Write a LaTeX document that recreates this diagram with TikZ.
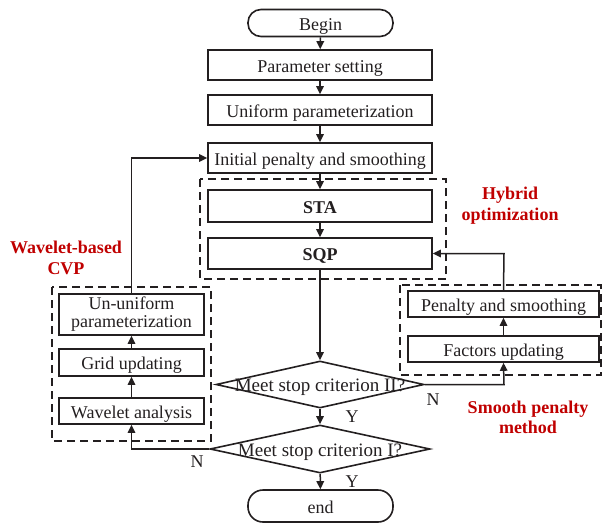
\documentclass[tikz,border=0pt]{standalone}
\usepackage{fontspec}
\setmainfont{Liberation Serif}
\usetikzlibrary{arrows.meta,shapes.geometric}
\definecolor{ink}{RGB}{35,31,32}
\definecolor{lblred}{RGB}{192,0,0}
\tikzset{
  base/.style={draw=ink, line width=1.6pt, inner sep=0pt, text=ink, font=\fontsize{18}{18}\selectfont, align=center},
  onerow/.style={text height=14.5pt, text depth=0pt},
  procbox/.style={base, rectangle, onerow},
  termbox/.style={base, rectangle, onerow, rounded corners=13pt},
  decbox/.style={base, diamond, aspect=4.4},
  grpbox/.style={draw=ink, line width=1.5pt, dash pattern=on 8pt off 5pt},
  conn/.style={draw=ink, line width=1.5pt},
  arr/.style={conn, -{Triangle[length=8pt,width=7.5pt]}},
  redlbl/.style={text=lblred, font=\fontsize{18}{21}\selectfont\bfseries, align=center, inner sep=0pt},
  yn/.style={text=ink, font=\fontsize{18}{18}\selectfont, inner sep=0pt}
}
\begin{document}
\begin{tikzpicture}[x=1pt,y=-1pt]
\useasboundingbox (0,0) rectangle (602,523);
% groups
\draw[grpbox] (200,179) rectangle (446,279);
\draw[grpbox] (400,285) rectangle (601,375);
\draw[grpbox] (52,287) rectangle (211,441);
% main column
\node[termbox, minimum width=145pt, minimum height=27pt] (begin) at (320.5,23) {Begin};
\node[procbox, minimum width=224pt, minimum height=30pt] (param) at (320,65) {Parameter setting};
\node[procbox, minimum width=224pt, minimum height=30pt] (uni) at (320,110) {Uniform parameterization};
\node[procbox, minimum width=224pt, minimum height=30pt] (init) at (320,158) {Initial penalty and smoothing};
\node[procbox, minimum width=224pt, minimum height=32pt, font=\fontsize{18}{18}\selectfont\bfseries] (sta) at (320,206) {STA};
\node[procbox, minimum width=224pt, minimum height=31pt, font=\fontsize{18}{18}\selectfont\bfseries] (sqp) at (320,253.5) {SQP};
\node[decbox, minimum width=208pt, minimum height=47pt] (d2) at (320,384.5) {};
\node[yn, onerow, font=\fontsize{19}{19}\selectfont] (d2t) at (d2.center) {Meet stop criterion II?};
\node[decbox, minimum width=220pt, minimum height=48pt] (d1) at (320,449) {};
\node[yn, onerow, font=\fontsize{19}{19}\selectfont] (d1t) at (d1.center) {Meet stop criterion I?};
\node[termbox, minimum width=145pt, minimum height=32pt, rounded corners=15pt] (end) at (320.5,506) {end};
% right group
\node[procbox, minimum width=191pt, minimum height=26pt] (ps) at (503.5,304) {Penalty and smoothing};
\node[procbox, minimum width=191pt, minimum height=26pt] (fu) at (503.5,349) {Factors updating};
% left group
\node[base, rectangle, minimum width=145pt, minimum height=41pt] (uu) at (131.5,314.5) {Un-uniform\\parameterization};
\node[procbox, minimum width=145pt, minimum height=27pt] (gu) at (131.5,362.5) {Grid updating};
\node[procbox, minimum width=145pt, minimum height=26pt] (wa) at (131.5,411) {Wavelet analysis};
% labels
\node[redlbl] (lh) at (510,206) {Hybrid\\optimization};
\node[redlbl] (lw) at (66,257.5) {Wavelet-based\\CVP};
\node[redlbl, font=\fontsize{18}{20}\selectfont\bfseries] (ls) at (528,417) {Smooth penalty\\method};
\node[yn] (y1) at (352,417) {Y};
\node[yn] (y2) at (352,482) {Y};
\node[yn] (n1) at (433,400) {N};
\node[yn] (n2) at (197,462) {N};
% corner coordinates
\coordinate (c1) at (504,384.5);
\coordinate (c2) at (504,253.5);
\coordinate (c3) at (131.5,449);
\coordinate (c4) at (131.5,158);
% connectors
\draw[arr] (begin) -- (param);
\draw[arr] (param) -- (uni);
\draw[arr] (uni) -- (init);
\draw[arr] (init) -- (sta);
\draw[arr] (sta) -- (sqp);
\draw[arr] (sqp) -- (d2);
\draw[arr] (d2) -- (d1);
\draw[arr] (d1) -- (end);
\draw[arr] (d2.east) -- (c1) -- (fu.south);
\draw[arr] (fu) -- (ps);
\draw[arr] (ps.north) -- (c2) -- (sqp.east);
\draw[arr] (d1.west) -- (c3) -- (wa.south);
\draw[arr] (wa) -- (gu);
\draw[arr] (gu) -- (uu);
\draw[arr] (uu.north) -- (c4) -- (init.west);
\end{tikzpicture}
\end{document}
